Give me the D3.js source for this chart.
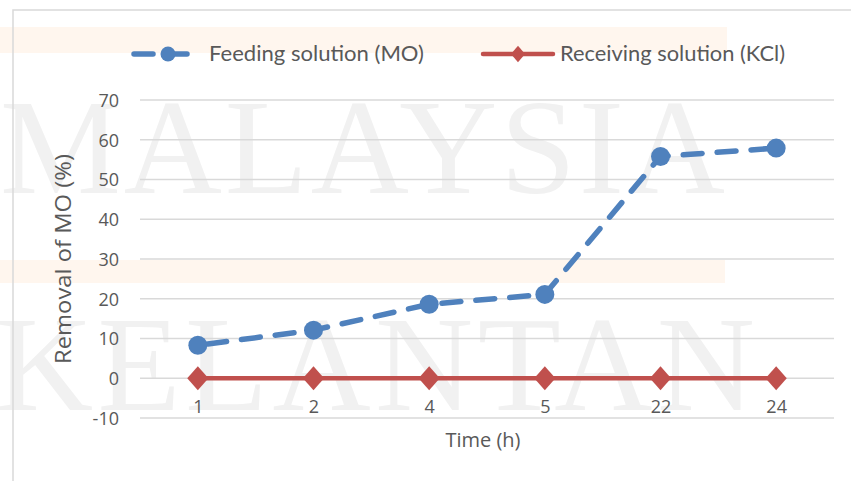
<!DOCTYPE html>
<html>
<head>
<meta charset="utf-8">
<script src="https://cdn.jsdelivr.net/npm/d3@7"></script>
<style>
  body { margin: 0; background: #fff; }
  svg { display: block; }
</style>
</head>
<body>
<svg id="chart" width="851" height="481"></svg>
<script>
// data
let categories = ["1", "2", "4", "5", "22", "24"]
let feeding = [8.3, 12.1, 18.6, 21.1, 55.8, 57.9]
let receiving = [0, 0, 0, 0, 0, 0]
let y_ticks = [-10, 0, 10, 20, 30, 40, 50, 60, 70]

const BLUE = "#4f81bd"
const RED = "#c0504d"
const TEXT = "#595959"

let svg = d3.select("#chart")

// faint background watermark of the original scan
svg.append("rect").attr("x", 0).attr("y", 27).attr("width", 727).attr("height", 26).attr("fill", "#fff6ee")
svg.append("rect").attr("x", 0).attr("y", 260).attr("width", 725).attr("height", 23).attr("fill", "#fff6ee")
svg.append("text")
    .attr("x", 0).attr("y", 193)
    .attr("font-family", "Liberation Serif").attr("font-size", 136)
    .attr("fill", "#f1f1f1")
    .attr("textLength", 725).attr("lengthAdjust", "spacing")
    .text("MALAYSIA")
svg.append("text")
    .attr("x", -5).attr("y", 410)
    .attr("font-family", "Liberation Serif").attr("font-size", 136)
    .attr("fill", "#f1f1f1")
    .attr("textLength", 760).attr("lengthAdjust", "spacing")
    .text("KELANTAN")

// chart border (only top and left visible)
svg.append("path")
    .attr("d", "M13,481 V10 H851")
    .attr("fill", "none").attr("stroke", "#d9d9d9").attr("stroke-width", 1.5)

let x = d3.scalePoint().domain(categories).range([140, 834]).padding(0.5)
let y = d3.scaleLinear().domain([-10, 70]).range([418, 100])

// gridlines
svg.append("g").selectAll("line").data(y_ticks).join("line")
    .attr("x1", 140).attr("x2", 834)
    .attr("y1", d => y(d)).attr("y2", d => y(d))
    .attr("stroke", "#d9d9d9").attr("stroke-width", 1.3)

// y axis labels
let yAxis = svg.append("g")
    .attr("transform", "translate(119,0)")
    .call(d3.axisLeft(y).tickValues(y_ticks).tickSize(0).tickPadding(0).tickFormat(d => String(d)))
yAxis.select(".domain").remove()
yAxis.selectAll("text")
    .attr("fill", TEXT).attr("font-family", "Open Sans").attr("font-size", 18)
    .attr("dy", "0.36em")

// category labels sit just above the -10 gridline
let xAxis = svg.append("g")
    .attr("transform", "translate(0," + y(-10) + ")")
    .call(d3.axisBottom(x).tickSize(0).tickPadding(0))
xAxis.select(".domain").remove()
xAxis.selectAll("text")
    .attr("fill", TEXT).attr("font-family", "Open Sans").attr("font-size", 18)
    .attr("dy", "-0.3em")

// axis titles
svg.append("text")
    .attr("x", 483).attr("y", 447)
    .attr("text-anchor", "middle")
    .attr("fill", TEXT).attr("font-family", "Open Sans").attr("font-size", 20)
    .text("Time (h)")
svg.append("text")
    .attr("transform", "translate(71,259) rotate(-90)")
    .attr("text-anchor", "middle")
    .attr("fill", TEXT).attr("font-family", "Open Sans").attr("font-size", 22)
    .attr("textLength", 210).attr("lengthAdjust", "spacingAndGlyphs")
    .text("Removal of MO (%)")

let line = d3.line().x((d, i) => x(categories[i])).y(d => y(d))

// receiving solution
svg.append("path").datum(receiving)
    .attr("d", line)
    .attr("fill", "none").attr("stroke", RED).attr("stroke-width", 4.5)
let diamond = d3.symbol().type(d3.symbolSquare).size(225)
svg.append("g").selectAll("path").data(receiving).join("path")
    .attr("d", diamond)
    .attr("transform", (d, i) => "translate(" + x(categories[i]) + "," + y(d) + ") scale(1,1.12) rotate(45)")
    .attr("fill", RED)

// feeding solution
svg.append("path").datum(feeding)
    .attr("d", line)
    .attr("fill", "none").attr("stroke", BLUE).attr("stroke-width", 5.5)
    .attr("stroke-linecap", "round").attr("stroke-dasharray", "19 15")
    .attr("stroke-dashoffset", -10)
svg.append("g").selectAll("circle").data(feeding).join("circle")
    .attr("cx", (d, i) => x(categories[i]))
    .attr("cy", d => y(d))
    .attr("r", 9.5)
    .attr("fill", BLUE)

// legend
let legend = svg.append("g")
legend.append("line").attr("x1", 134).attr("x2", 193).attr("y1", 54).attr("y2", 54)
    .attr("stroke", BLUE).attr("stroke-width", 5.5).attr("stroke-linecap", "round")
    .attr("stroke-dasharray", "19 15")
legend.append("circle").attr("cx", 168).attr("cy", 54).attr("r", 7.5).attr("fill", BLUE)
legend.append("text").attr("x", 209).attr("y", 54).attr("dy", "0.35em")
    .attr("fill", TEXT).attr("font-family", "Lato").attr("font-size", 21)
    .attr("textLength", 215).attr("lengthAdjust", "spacingAndGlyphs")
    .text("Feeding solution (MO)")
legend.append("line").attr("x1", 483).attr("x2", 553).attr("y1", 54).attr("y2", 54)
    .attr("stroke", RED).attr("stroke-width", 4.5).attr("stroke-linecap", "round")
legend.append("path").attr("d", d3.symbol().type(d3.symbolSquare).size(100))
    .attr("transform", "translate(518,54) scale(1,1.15) rotate(45)").attr("fill", RED)
legend.append("text").attr("x", 560).attr("y", 54).attr("dy", "0.35em")
    .attr("fill", TEXT).attr("font-family", "Lato").attr("font-size", 21)
    .attr("textLength", 225).attr("lengthAdjust", "spacingAndGlyphs")
    .text("Receiving solution (KCl)")
</script>
</body>
</html>
